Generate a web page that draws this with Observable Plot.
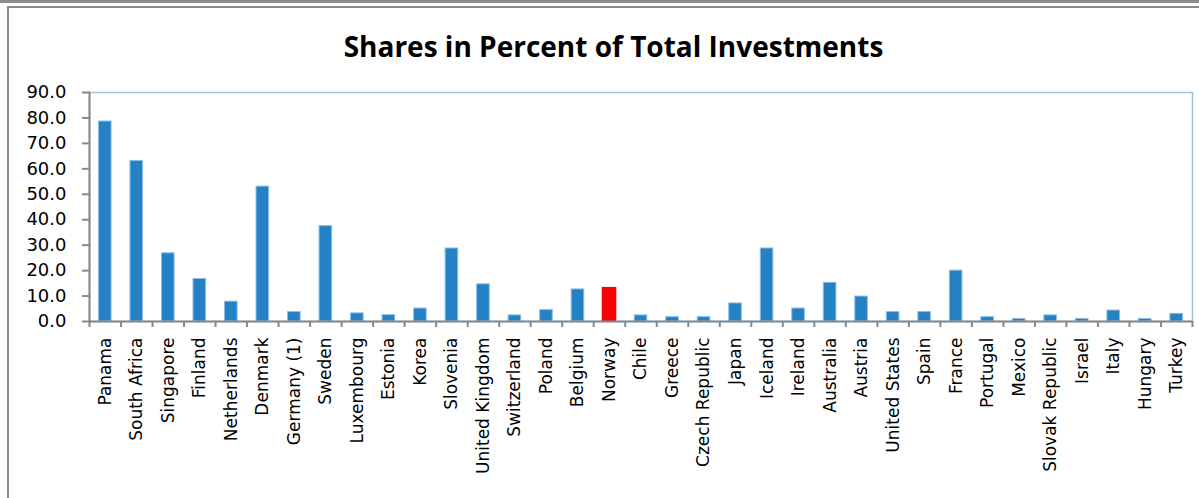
<!DOCTYPE html>
<html><head><meta charset="utf-8">
<script src="https://cdn.jsdelivr.net/npm/d3@7"></script>
<script src="https://cdn.jsdelivr.net/npm/@observablehq/plot@0.6"></script>
<style>
html,body{margin:0;padding:0;background:#fff;}
#wrap{position:relative;width:1199px;height:498px;overflow:hidden;background:#fff;}
#chart{position:absolute;left:0;top:0;}
#topband{position:absolute;left:0;top:0;width:1199px;height:3px;background:#8c8c8c;}
#box{position:absolute;left:7px;top:6px;width:1300px;height:600px;border-left:2px solid #8a8a8a;border-top:2px solid #8a8a8a;}
#title{position:absolute;left:0;top:32px;width:1227px;text-align:center;font-family:"Open Sans";font-weight:700;font-size:28px;line-height:28px;color:#000;white-space:nowrap;}
</style></head>
<body>
<div id="wrap">
  <div id="chart"></div>
  <div id="topband"></div>
  <div id="box"></div>
  <div id="title">Shares in Percent of Total Investments</div>
</div>
<script>
const countries = ["Panama","South Africa","Singapore","Finland","Netherlands","Denmark","Germany (1)","Sweden","Luxembourg","Estonia","Korea","Slovenia","United Kingdom","Switzerland","Poland","Belgium","Norway","Chile","Greece","Czech Republic","Japan","Iceland","Ireland","Australia","Austria","United States","Spain","France","Portugal","Mexico","Slovak Republic","Israel","Italy","Hungary","Turkey"];
const values = [78.6,63.1,26.8,16.7,7.8,53.0,3.7,37.5,3.2,2.5,5.1,28.7,14.6,2.4,4.5,12.6,13.4,2.4,1.7,1.7,7.1,28.7,5.1,15.2,9.8,3.7,3.7,20.0,1.7,1.0,2.4,1.0,4.3,1.0,3.0];
const highlight = ["Norway"];
const yTicks = [0,10,20,30,40,50,60,70,80,90];

const data = countries.map((c,i)=>({country:c, value:values[i]}));
const W=1199, H=498, mL=89, mR=7, mT=92, mB=177;
const step = (W-mL-mR)/countries.length;
const gray = "#888888";

const chart = Plot.plot({
  width:W, height:H, marginLeft:mL, marginRight:mR, marginTop:mT, marginBottom:mB,
  style:{fontFamily:"DejaVu Sans", fontSize:"17px", color:"#000", background:"transparent", overflow:"visible"},
  x:{domain:countries, paddingInner:0.6, paddingOuter:0.3, round:false, label:null, axis:null},
  y:{domain:[0,90], label:null, axis:null},
  marks:[
    Plot.frame({stroke:"#9dc3e6", strokeWidth:1.5}),
    Plot.barY(data.filter(d=>!highlight.includes(d.country)), {x:"country", y:"value", fill:"#2481c3", stroke:"#8dbde6", strokeWidth:1}),
    Plot.barY(data.filter(d=>highlight.includes(d.country)), {x:"country", y:"value", fill:"#ff0000", insetLeft:-1, insetRight:-1}),
    Plot.ruleY([0], {stroke:gray, strokeWidth:2}),
    Plot.frame({anchor:"left", stroke:gray, strokeWidth:2}),
    Plot.axisY({ticks:yTicks, tickFormat:d=>d.toFixed(1), tickSize:7, tickPadding:16, fontSize:18, stroke:gray, strokeWidth:2, label:null}),
    Plot.axisX({tickSize:6, dx:-step/2, stroke:gray, strokeWidth:2, fill:"none", tickFormat:()=>"", label:null}),
    Plot.axisX({ticks:[countries[countries.length-1]], tickSize:6, dx:step/2, stroke:gray, strokeWidth:2, fill:"none", tickFormat:()=>"", label:null}),
    Plot.axisX({tickSize:0, tickRotate:-90, tickPadding:16, fontSize:17, label:null})
  ]
});
document.getElementById("chart").appendChild(chart);
</script>
</body></html>
